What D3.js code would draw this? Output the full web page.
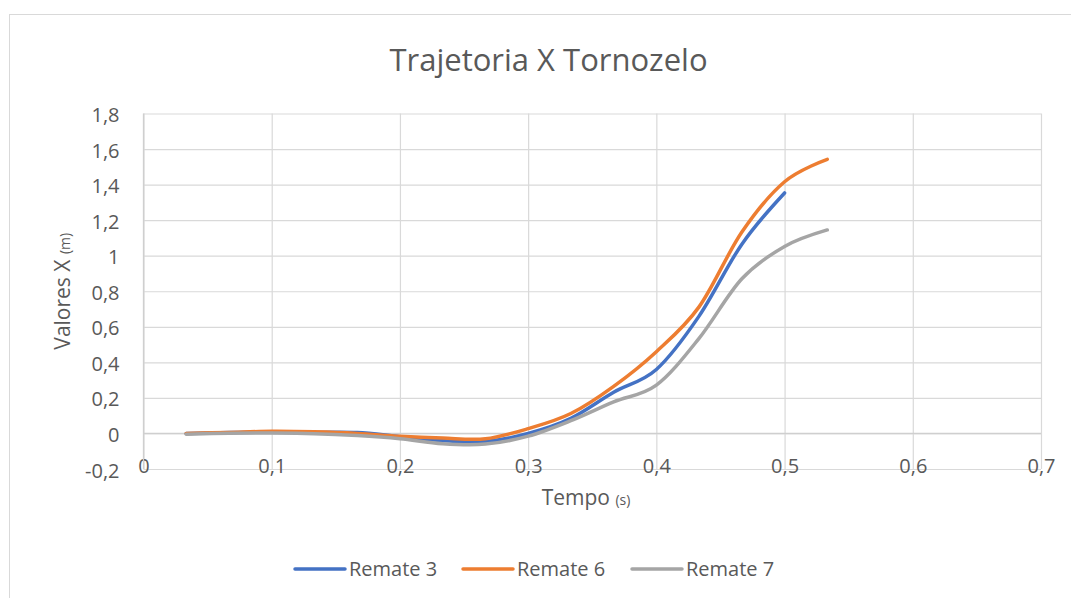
<!DOCTYPE html>
<html>
<head>
<meta charset="utf-8">
<script src="https://cdn.jsdelivr.net/npm/d3@7"></script>
<style>
  html, body { margin: 0; padding: 0; background: #fff; }
  svg { display: block; }
  text { font-family: "Open Sans", sans-serif; fill: #595959; }
</style>
</head>
<body>
<svg id="chart" width="1071" height="598"></svg>
<script>
// ---- data ----
const tempo3 = [0.0333, 0.0667, 0.1, 0.1333, 0.1667, 0.2, 0.2333, 0.2667, 0.3, 0.3333, 0.3667, 0.4, 0.4333, 0.4667, 0.5];
const tempo67 = [0.0333, 0.0667, 0.1, 0.1333, 0.1667, 0.2, 0.2333, 0.2667, 0.3, 0.3333, 0.3667, 0.4, 0.4333, 0.4667, 0.5, 0.5333];
const remate3 = [0.000, 0.005, 0.007, 0.006, 0.005, -0.018, -0.040, -0.045, 0.000, 0.085, 0.232, 0.360, 0.660, 1.065, 1.353];
const remate6 = [0.000, 0.006, 0.012, 0.009, 0.000, -0.016, -0.026, -0.030, 0.027, 0.112, 0.265, 0.460, 0.712, 1.133, 1.416, 1.542];
const remate7 = [-0.004, 0.001, 0.002, -0.001, -0.012, -0.030, -0.058, -0.060, -0.015, 0.072, 0.178, 0.272, 0.535, 0.870, 1.052, 1.145];
const seriesNames = ["Remate 3", "Remate 6", "Remate 7"];
const seriesColors = ["#4472C4", "#ED7D31", "#A5A5A5"];
const xTicks = [0, 0.1, 0.2, 0.3, 0.4, 0.5, 0.6, 0.7];
const yTicks = [-0.2, 0, 0.2, 0.4, 0.6, 0.8, 1, 1.2, 1.4, 1.6, 1.8];
const titleText = "Trajetoria X Tornozelo";
const xTitle = "Tempo";
const xUnit = "(s)";
const yTitle = "Valores X";
const yUnit = "(m)";

const series = [
  { name: seriesNames[0], color: seriesColors[0], pts: tempo3.map((t, i) => [t, remate3[i]]) },
  { name: seriesNames[1], color: seriesColors[1], pts: tempo67.map((t, i) => [t, remate6[i]]) },
  { name: seriesNames[2], color: seriesColors[2], pts: tempo67.map((t, i) => [t, remate7[i]]) }
];

// ---- layout ----
const svg = d3.select("#chart");
const L = 143.5, R = 1041, T = 113.5, B = 469;

const locale = d3.formatLocale({ decimal: ",", thousands: ".", grouping: [3], currency: ["R$", ""], minus: "-" });
const fmt = locale.format(".1~f");

const x = d3.scaleLinear().domain([0, 0.7]).range([L, R]);
const y = d3.scaleLinear().domain([-0.2, 1.8]).range([B, T]);

// chart border
svg.append("rect").attr("x", 9.5).attr("y", 14.5).attr("width", 1100).attr("height", 640)
  .attr("fill", "#fff").attr("stroke", "#d9d9d9").attr("stroke-width", 1);

// title
const title = svg.append("text").attr("x", 548.5).attr("y", 71)
  .attr("text-anchor", "middle").attr("font-size", 31).text(titleText);

// y axis with gridlines
const gy = svg.append("g").attr("transform", `translate(${L},0)`)
  .call(d3.axisLeft(y).tickValues(yTicks).tickFormat(fmt).tickSize(-(R - L)).tickPadding(24));
gy.select(".domain").remove();
gy.selectAll(".tick line").attr("stroke", "#d9d9d9").attr("stroke-width", 1.2);
gy.selectAll(".tick text").attr("font-size", 20).attr("fill", "#595959")
  .attr("font-family", "'Open Sans', sans-serif").attr("dy", "0.4em");

// x axis with gridlines
const gx = svg.append("g").attr("transform", `translate(0,${B})`)
  .call(d3.axisBottom(x).tickValues(xTicks).tickFormat(fmt).tickSize(-(B - T)).tickPadding(-10));
gx.select(".domain").remove();
gx.selectAll(".tick line").attr("stroke", "#d9d9d9").attr("stroke-width", 1.2);
gx.selectAll(".tick text").attr("font-size", 20).attr("fill", "#595959")
  .attr("font-family", "'Open Sans', sans-serif");

// axis lines (zero line and y axis)
svg.append("line").attr("x1", L).attr("x2", R).attr("y1", y(0)).attr("y2", y(0))
  .attr("stroke", "#cfcfcf").attr("stroke-width", 1.3);
svg.append("line").attr("x1", x(0)).attr("x2", x(0)).attr("y1", T).attr("y2", B)
  .attr("stroke", "#cfcfcf").attr("stroke-width", 1.3);

// lines
const line = d3.line().x(d => x(d[0])).y(d => y(d[1])).curve(d3.curveCatmullRom.alpha(0));
svg.append("g").selectAll("path").data(series).join("path")
  .attr("d", d => line(d.pts))
  .attr("fill", "none").attr("stroke", d => d.color).attr("stroke-width", 3.5)
  .attr("stroke-linecap", "round").attr("stroke-linejoin", "round");

// axis titles
const xt = svg.append("text").attr("x", 586).attr("y", 505).attr("text-anchor", "middle");
xt.append("tspan").attr("font-size", 21).text(xTitle + " ");
xt.append("tspan").attr("font-size", 14).text(xUnit);

const yt = svg.append("text").attr("transform", `translate(70,${(T + B) / 2}) rotate(-90)`)
  .attr("text-anchor", "middle");
yt.append("tspan").attr("font-size", 21).text(yTitle + " ");
yt.append("tspan").attr("font-size", 14).text(yUnit);

// legend
const legendX = [295, 463, 632];
const lg = svg.append("g").selectAll("g").data(series).join("g")
  .attr("transform", (d, i) => `translate(${legendX[i]},569)`);
lg.append("line").attr("x1", 0).attr("x2", 50).attr("y1", 0).attr("y2", 0)
  .attr("stroke", d => d.color).attr("stroke-width", 3.5).attr("stroke-linecap", "round");
lg.append("text").attr("x", 54).attr("y", 7).attr("font-size", 20).text(d => d.name);

// fit title width to reference
const tl = title.node().getComputedTextLength();
if (tl > 327) title.attr("textLength", 327).attr("lengthAdjust", "spacingAndGlyphs");
</script>
</body>
</html>
